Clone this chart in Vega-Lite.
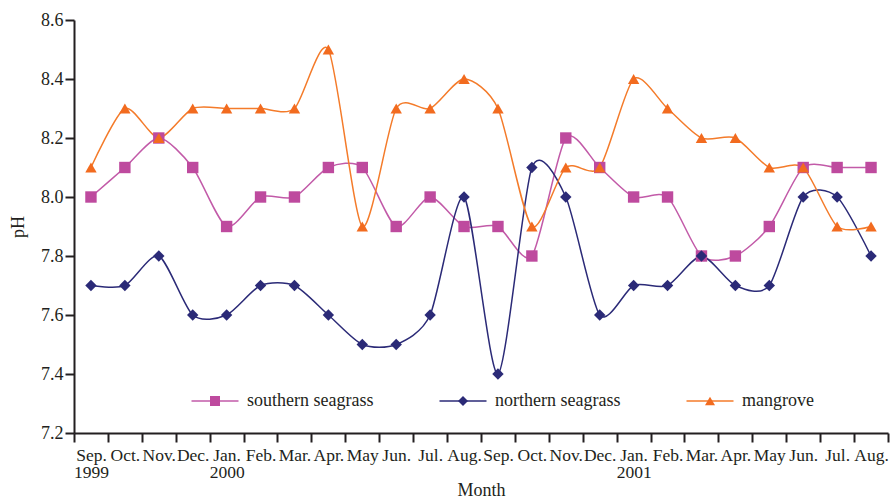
{
  "$schema": "https://vega.github.io/schema/vega-lite/v6.json",
  "width": 814,
  "height": 413,
  "autosize": {"type": "none"},
  "padding": {"left": 74, "top": 20, "right": 2, "bottom": 66},
  "background": "white",
  "config": {
    "view": {"stroke": null},
    "font": "Liberation Serif",
    "axis": {
      "labelFont": "Liberation Serif",
      "titleFont": "Liberation Serif",
      "labelColor": "#231F20",
      "titleColor": "#231F20",
      "titleFontWeight": "normal",
      "domainColor": "#231F20",
      "tickColor": "#231F20",
      "domainWidth": 2,
      "tickWidth": 2,
      "grid": false
    },
    "legend": {
      "title": null,
      "orient": "none",
      "legendX": 132,
      "legendY": 372,
      "direction": "horizontal",
      "padding": 0,
      "symbolSize": 100,
      "labelFont": "Liberation Serif",
      "labelFontSize": 18,
      "labelColor": "#231F20",
      "labelOffset": 23,
      "columnPadding": 80,
      "labelLimit": 300
    }
  },
  "data": {
    "values": [
      {"month": "Sep. 1999", "site": "southern seagrass", "pH": 8.0},
      {"month": "Oct. 1999", "site": "southern seagrass", "pH": 8.1},
      {"month": "Nov. 1999", "site": "southern seagrass", "pH": 8.2},
      {"month": "Dec. 1999", "site": "southern seagrass", "pH": 8.1},
      {"month": "Jan. 2000", "site": "southern seagrass", "pH": 7.9},
      {"month": "Feb. 2000", "site": "southern seagrass", "pH": 8.0},
      {"month": "Mar. 2000", "site": "southern seagrass", "pH": 8.0},
      {"month": "Apr. 2000", "site": "southern seagrass", "pH": 8.1},
      {"month": "May 2000", "site": "southern seagrass", "pH": 8.1},
      {"month": "Jun. 2000", "site": "southern seagrass", "pH": 7.9},
      {"month": "Jul. 2000", "site": "southern seagrass", "pH": 8.0},
      {"month": "Aug. 2000", "site": "southern seagrass", "pH": 7.9},
      {"month": "Sep. 2000", "site": "southern seagrass", "pH": 7.9},
      {"month": "Oct. 2000", "site": "southern seagrass", "pH": 7.8},
      {"month": "Nov. 2000", "site": "southern seagrass", "pH": 8.2},
      {"month": "Dec. 2000", "site": "southern seagrass", "pH": 8.1},
      {"month": "Jan. 2001", "site": "southern seagrass", "pH": 8.0},
      {"month": "Feb. 2001", "site": "southern seagrass", "pH": 8.0},
      {"month": "Mar. 2001", "site": "southern seagrass", "pH": 7.8},
      {"month": "Apr. 2001", "site": "southern seagrass", "pH": 7.8},
      {"month": "May 2001", "site": "southern seagrass", "pH": 7.9},
      {"month": "Jun. 2001", "site": "southern seagrass", "pH": 8.1},
      {"month": "Jul. 2001", "site": "southern seagrass", "pH": 8.1},
      {"month": "Aug. 2001", "site": "southern seagrass", "pH": 8.1},

      {"month": "Sep. 1999", "site": "northern seagrass", "pH": 7.7},
      {"month": "Oct. 1999", "site": "northern seagrass", "pH": 7.7},
      {"month": "Nov. 1999", "site": "northern seagrass", "pH": 7.8},
      {"month": "Dec. 1999", "site": "northern seagrass", "pH": 7.6},
      {"month": "Jan. 2000", "site": "northern seagrass", "pH": 7.6},
      {"month": "Feb. 2000", "site": "northern seagrass", "pH": 7.7},
      {"month": "Mar. 2000", "site": "northern seagrass", "pH": 7.7},
      {"month": "Apr. 2000", "site": "northern seagrass", "pH": 7.6},
      {"month": "May 2000", "site": "northern seagrass", "pH": 7.5},
      {"month": "Jun. 2000", "site": "northern seagrass", "pH": 7.5},
      {"month": "Jul. 2000", "site": "northern seagrass", "pH": 7.6},
      {"month": "Aug. 2000", "site": "northern seagrass", "pH": 8.0},
      {"month": "Sep. 2000", "site": "northern seagrass", "pH": 7.4},
      {"month": "Oct. 2000", "site": "northern seagrass", "pH": 8.1},
      {"month": "Nov. 2000", "site": "northern seagrass", "pH": 8.0},
      {"month": "Dec. 2000", "site": "northern seagrass", "pH": 7.6},
      {"month": "Jan. 2001", "site": "northern seagrass", "pH": 7.7},
      {"month": "Feb. 2001", "site": "northern seagrass", "pH": 7.7},
      {"month": "Mar. 2001", "site": "northern seagrass", "pH": 7.8},
      {"month": "Apr. 2001", "site": "northern seagrass", "pH": 7.7},
      {"month": "May 2001", "site": "northern seagrass", "pH": 7.7},
      {"month": "Jun. 2001", "site": "northern seagrass", "pH": 8.0},
      {"month": "Jul. 2001", "site": "northern seagrass", "pH": 8.0},
      {"month": "Aug. 2001", "site": "northern seagrass", "pH": 7.8},

      {"month": "Sep. 1999", "site": "mangrove", "pH": 8.1},
      {"month": "Oct. 1999", "site": "mangrove", "pH": 8.3},
      {"month": "Nov. 1999", "site": "mangrove", "pH": 8.2},
      {"month": "Dec. 1999", "site": "mangrove", "pH": 8.3},
      {"month": "Jan. 2000", "site": "mangrove", "pH": 8.3},
      {"month": "Feb. 2000", "site": "mangrove", "pH": 8.3},
      {"month": "Mar. 2000", "site": "mangrove", "pH": 8.3},
      {"month": "Apr. 2000", "site": "mangrove", "pH": 8.5},
      {"month": "May 2000", "site": "mangrove", "pH": 7.9},
      {"month": "Jun. 2000", "site": "mangrove", "pH": 8.3},
      {"month": "Jul. 2000", "site": "mangrove", "pH": 8.3},
      {"month": "Aug. 2000", "site": "mangrove", "pH": 8.4},
      {"month": "Sep. 2000", "site": "mangrove", "pH": 8.3},
      {"month": "Oct. 2000", "site": "mangrove", "pH": 7.9},
      {"month": "Nov. 2000", "site": "mangrove", "pH": 8.1},
      {"month": "Dec. 2000", "site": "mangrove", "pH": 8.1},
      {"month": "Jan. 2001", "site": "mangrove", "pH": 8.4},
      {"month": "Feb. 2001", "site": "mangrove", "pH": 8.3},
      {"month": "Mar. 2001", "site": "mangrove", "pH": 8.2},
      {"month": "Apr. 2001", "site": "mangrove", "pH": 8.2},
      {"month": "May 2001", "site": "mangrove", "pH": 8.1},
      {"month": "Jun. 2001", "site": "mangrove", "pH": 8.1},
      {"month": "Jul. 2001", "site": "mangrove", "pH": 7.9},
      {"month": "Aug. 2001", "site": "mangrove", "pH": 7.9}
    ]
  },
  "encoding": {
    "x": {
      "field": "month",
      "type": "ordinal",
      "sort": null,
      "scale": {"type": "band", "paddingInner": 0, "paddingOuter": 0},
      "title": "Month",
      "axis": {
        "labelAngle": 0,
        "labelFontSize": 17.5,
        "labelPadding": 4,
        "labelLineHeight": 17,
        "labelBaseline": "top",
        "labelOverlap": false,
        "labelFlush": false,
        "tickBand": "extent",
        "tickSize": 9,
        "titleFontSize": 18,
        "titlePadding": 1,
        "labelExpr": "datum.value == null ? '' : indexof(['Sep. 1999', 'Jan. 2000', 'Jan. 2001'], datum.value) >= 0 ? split(datum.value, ' ') : split(datum.value, ' ')[0]"
      }
    },
    "y": {
      "field": "pH",
      "type": "quantitative",
      "scale": {"domain": [7.2, 8.6], "zero": false, "nice": false},
      "title": "pH",
      "axis": {
        "values": [7.2, 7.4, 7.6, 7.8, 8.0, 8.2, 8.4, 8.6],
        "format": ".1f",
        "labelFontSize": 18,
        "labelPadding": 2,
        "tickSize": 9,
        "titleFontSize": 18,
        "titlePadding": 13
      }
    }
  },
  "layer": [
    {
      "mark": {"type": "line", "interpolate": "cardinal", "tension": 0.25, "strokeWidth": 1.5},
      "encoding": {
        "color": {
          "field": "site",
          "type": "nominal",
          "sort": ["southern seagrass", "northern seagrass", "mangrove"],
          "scale": {"range": ["#C25AA8", "#2B2A77", "#F47B2A"]},
          "legend": {
            "symbolType": "M-4.7,0H4.7",
            "symbolStrokeWidth": 1.5,
            "labelOpacity": 0,
            "columnPadding": 62
          }
        }
      }
    },
    {
      "mark": {"type": "point", "filled": true, "opacity": 1},
      "encoding": {
        "fill": {
          "field": "site",
          "type": "nominal",
          "scale": {
            "domain": ["southern seagrass", "northern seagrass", "mangrove"],
            "range": ["#BE4A9E", "#2B2A77", "#F26B1F"]
          },
          "legend": {}
        },
        "shape": {
          "field": "site",
          "type": "nominal",
          "scale": {
            "domain": ["southern seagrass", "northern seagrass", "mangrove"],
            "range": ["square", "diamond", "triangle-up"]
          },
          "legend": {}
        },
        "size": {"value": 130}
      }
    }
  ]
}
